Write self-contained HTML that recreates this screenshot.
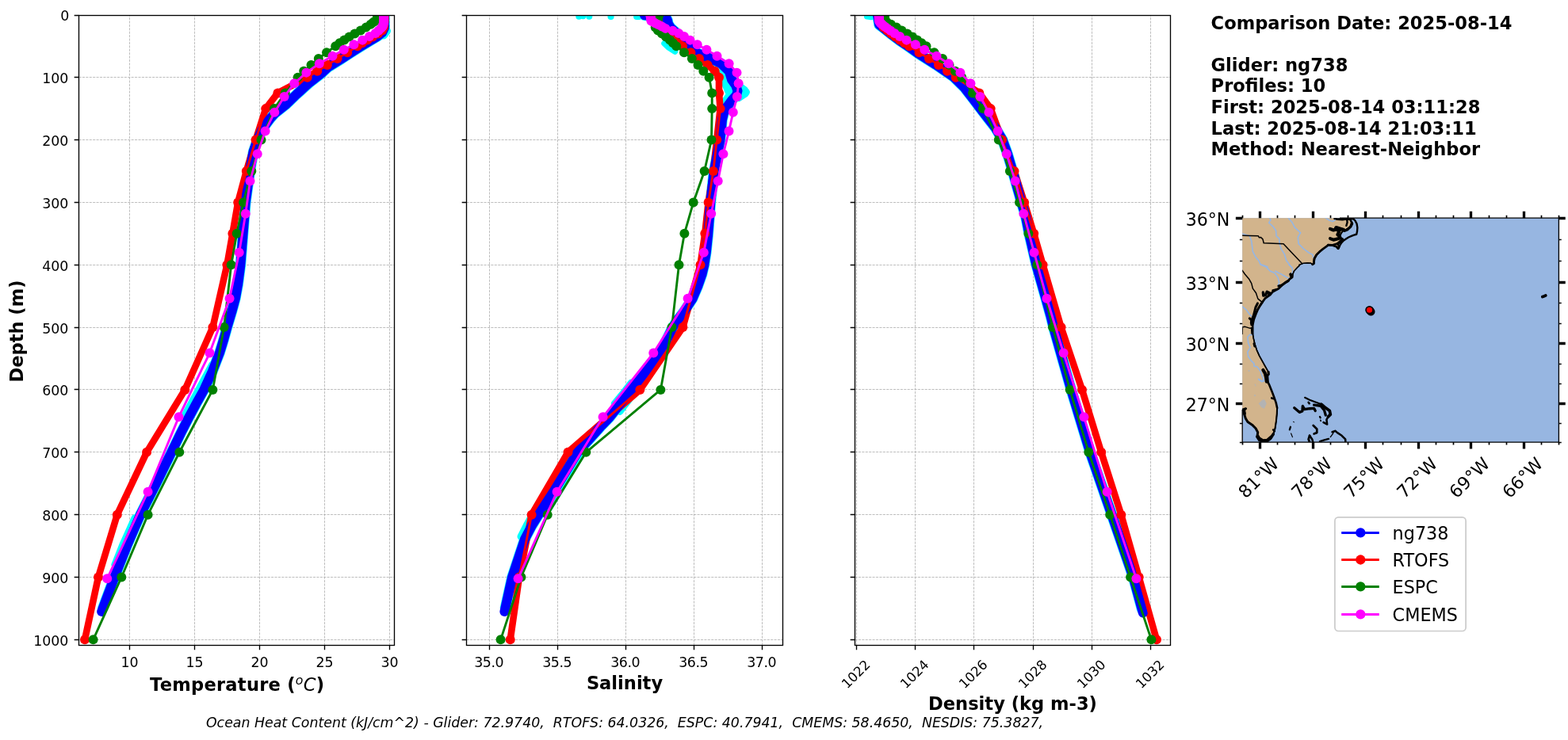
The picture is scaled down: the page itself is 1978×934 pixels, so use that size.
<!DOCTYPE html>
<html lang="en"><head><meta charset="utf-8"><title>Glider vs model profile comparison</title>
<style>html,body{margin:0;padding:0;background:#fff}body{width:1978px;height:934px;overflow:hidden}svg{display:block}</style></head>
<body>
<svg width="1978" height="934" viewBox="0 0 1978 934" font-family='"DejaVu Sans","Liberation Sans",sans-serif'>
<rect width="1978" height="934" fill="#fff"/>
<defs>
<clipPath id="c0"><rect x="99.5" y="19.5" width="398" height="795"/></clipPath>
<clipPath id="c1"><rect x="588.5" y="19.5" width="399" height="795"/></clipPath>
<clipPath id="c2"><rect x="1078.5" y="19.5" width="398" height="795"/></clipPath>
<clipPath id="cm"><rect x="1567.2" y="275.2" width="399.2" height="282.9"/></clipPath>
</defs>
<g>
<path d="M163.5 814.5V19.5M245.5 814.5V19.5M327.5 814.5V19.5M409.5 814.5V19.5M491.5 814.5V19.5M99.5 19.5H497.5M99.5 97.5H497.5M99.5 176.5H497.5M99.5 255.5H497.5M99.5 334.5H497.5M99.5 413.5H497.5M99.5 491.5H497.5M99.5 570.5H497.5M99.5 649.5H497.5M99.5 728.5H497.5M99.5 807.5H497.5" fill="none" stroke="#b0b0b0" stroke-width="0.83" stroke-dasharray="3.08 1.33"/>
<g clip-path="url(#c0)" fill="none" stroke-linejoin="round" stroke-linecap="round">
<polyline points="485,19.3 485,35.06 482,41.37 476,46.1 468,50.82 455,58.7 442.5,66.59 430.5,74.47 414,84.71 405.5,92.59 390.3,104.41 374.2,118.99 360.3,132.31 346.5,143.27 340.5,150.12 335.1,157.38 330,165.1 324.7,176.92 319.7,191.11 315.2,216.33 309.8,255.73 306.6,295.14 303.4,334.54 300.3,358.18 297,376.31 292.3,393.65 286.4,413.35 282,429.11 276.9,445.66 268,468.52 257.2,492.16 248.4,507.92 238.6,526.05 227.8,547.33 216.3,570.97 197,610.38 177,649.78 160,689.18 144.4,728.59 129.95,767.25" stroke="#0ff" stroke-width="13.4"/>
<polyline points="488,39 484,44.52" stroke="#0ff" stroke-width="10"/>
<polyline points="170,653.72 155.5,686.03 144.8,712.83" stroke="#0ff" stroke-width="9"/>
<polyline points="268,460.64 251,492.16 234,523.68" stroke="#0ff" stroke-width="10"/>
<polyline points="484.5,18.85 484.5,20.43 484.5,22 484.5,23.58 484.5,25.16 484.5,26.73 484.4,28.31 484.25,30.68 484,34.62 482,38.56 477,42.51 470,46.45 463.5,50.39 457,54.33 450.9,58.27 438.2,66.16 425.6,74.05 412.9,81.93 400.3,89.81 387.7,97.7 350.4,117.41 335.2,137.12 322.6,176.55 310.8,215.97 300.2,255.4 293.4,294.82 286.4,334.25 268.4,413.1 233.3,491.95 185.1,570.8 147.8,649.65 124,728.5 107,807.35" stroke="#f00" stroke-width="8.6" stroke-linecap="butt"/>
<polyline points="485,19.3 485,35.06 482,41.37 476,46.1 468,50.82 455,58.7 442.5,66.59 430.5,74.47 414,84.71 405.5,92.59 390.3,104.41 374.2,118.99 360.3,132.31 346.5,143.27 340.5,150.12 335.1,157.38 330,165.1 324.7,176.92 319.7,191.11 315.2,216.33 309.8,255.73 306.6,295.14 303.4,334.54 300.3,358.18 297,376.31 292.3,393.65 286.4,413.35 282,429.11 276.9,445.66 268,468.52 257.2,492.16 248.4,507.92 238.6,526.05 227.8,547.33 216.3,570.97 197,610.38 177,649.78 160,689.18 144.4,728.59 128.2,771.94" stroke="#00f" stroke-width="12"/>
<polyline points="484.5,18.85 484.5,20.43 484.5,22 484.5,23.58 484.5,25.16 484.5,26.73 484.4,28.31 484.25,30.68 484,34.62 482,38.56 477,42.51 470,46.45 463.5,50.39 457,54.33 450.9,58.27 438.2,66.16 425.6,74.05 412.9,81.93 400.3,89.81 387.7,97.7 350.4,117.41 335.2,137.12 322.6,176.55 310.8,215.97 300.2,255.4 293.4,294.82 286.4,334.25 268.4,413.1 233.3,491.95 185.1,570.8 147.8,649.65 124,728.5 107,807.35" stroke="#f00" stroke-width="2.9"/>
<g fill="#f00" stroke="none"><circle cx="484.5" cy="18.85" r="6"/><circle cx="484.5" cy="20.43" r="6"/><circle cx="484.5" cy="22" r="6"/><circle cx="484.5" cy="23.58" r="6"/><circle cx="484.5" cy="25.16" r="6"/><circle cx="484.5" cy="26.73" r="6"/><circle cx="484.4" cy="28.31" r="6"/><circle cx="484.25" cy="30.68" r="6"/><circle cx="484" cy="34.62" r="6"/><circle cx="482" cy="38.56" r="6"/><circle cx="477" cy="42.51" r="6"/><circle cx="470" cy="46.45" r="6"/><circle cx="463.5" cy="50.39" r="6"/><circle cx="457" cy="54.33" r="6"/><circle cx="450.9" cy="58.27" r="6"/><circle cx="438.2" cy="66.16" r="6"/><circle cx="425.6" cy="74.05" r="6"/><circle cx="412.9" cy="81.93" r="6"/><circle cx="400.3" cy="89.81" r="6"/><circle cx="387.7" cy="97.7" r="6"/><circle cx="350.4" cy="117.41" r="6"/><circle cx="335.2" cy="137.12" r="6"/><circle cx="322.6" cy="176.55" r="6"/><circle cx="310.8" cy="215.97" r="6"/><circle cx="300.2" cy="255.4" r="6"/><circle cx="293.4" cy="294.82" r="6"/><circle cx="286.4" cy="334.25" r="6"/><circle cx="268.4" cy="413.1" r="6"/><circle cx="233.3" cy="491.95" r="6"/><circle cx="185.1" cy="570.8" r="6"/><circle cx="147.8" cy="649.65" r="6"/><circle cx="124" cy="728.5" r="6"/><circle cx="107" cy="807.35" r="6"/></g>
<polyline points="476.5,18.85 476.33,20.43 476.17,22 476,23.58 475,25.16 473.1,26.73 470.67,28.31 467.57,30.68 461.6,34.62 454.87,38.56 447.47,42.51 440.53,46.45 434.3,50.39 428.46,54.33 423.24,58.27 412.02,66.16 401.83,74.05 392.53,81.93 383.19,89.81 375.6,97.7 359.8,117.41 346,137.12 329.5,176.55 317.3,215.97 307,255.4 298.7,294.82 291.7,334.25 282.6,413.1 268.4,491.95 226.3,570.8 186.6,649.65 153.3,728.5 117.6,807.35" stroke="#008000" stroke-width="2.9"/>
<g fill="#008000" stroke="none"><circle cx="476.5" cy="18.85" r="6"/><circle cx="476.33" cy="20.43" r="6"/><circle cx="476.17" cy="22" r="6"/><circle cx="476" cy="23.58" r="6"/><circle cx="475" cy="25.16" r="6"/><circle cx="473.1" cy="26.73" r="6"/><circle cx="470.67" cy="28.31" r="6"/><circle cx="467.57" cy="30.68" r="6"/><circle cx="461.6" cy="34.62" r="6"/><circle cx="454.87" cy="38.56" r="6"/><circle cx="447.47" cy="42.51" r="6"/><circle cx="440.53" cy="46.45" r="6"/><circle cx="434.3" cy="50.39" r="6"/><circle cx="428.46" cy="54.33" r="6"/><circle cx="423.24" cy="58.27" r="6"/><circle cx="412.02" cy="66.16" r="6"/><circle cx="401.83" cy="74.05" r="6"/><circle cx="392.53" cy="81.93" r="6"/><circle cx="383.19" cy="89.81" r="6"/><circle cx="375.6" cy="97.7" r="6"/><circle cx="359.8" cy="117.41" r="6"/><circle cx="346" cy="137.12" r="6"/><circle cx="329.5" cy="176.55" r="6"/><circle cx="317.3" cy="215.97" r="6"/><circle cx="307" cy="255.4" r="6"/><circle cx="298.7" cy="294.82" r="6"/><circle cx="291.7" cy="334.25" r="6"/><circle cx="282.6" cy="413.1" r="6"/><circle cx="268.4" cy="491.95" r="6"/><circle cx="226.3" cy="570.8" r="6"/><circle cx="186.6" cy="649.65" r="6"/><circle cx="153.3" cy="728.5" r="6"/><circle cx="117.6" cy="807.35" r="6"/></g>
<polyline points="484,19.24 484,20.06 484,20.94 484,21.86 484,22.86 484,23.93 484,25.1 484,26.4 484,27.84 483.77,29.47 483.5,31.32 482.5,33.44 480.5,35.88 477.5,38.72 473.6,42.03 466,45.97 457.2,50.63 446.4,56.22 433.8,62.85 419.5,70.73 402.8,80.27 386.4,91.63 371.2,105.35 358.6,121.91 346.3,141.78 334.6,165.59 324.7,194.29 315.5,228.59 309.8,269.67 301.7,318.64 289.6,376.75 264.5,445.51 225.5,526.33 186.6,620.71 135.2,730.31" stroke="#f0f" stroke-width="2.9"/>
<g fill="#f0f" stroke="none"><circle cx="484" cy="19.24" r="6"/><circle cx="484" cy="20.06" r="6"/><circle cx="484" cy="20.94" r="6"/><circle cx="484" cy="21.86" r="6"/><circle cx="484" cy="22.86" r="6"/><circle cx="484" cy="23.93" r="6"/><circle cx="484" cy="25.1" r="6"/><circle cx="484" cy="26.4" r="6"/><circle cx="484" cy="27.84" r="6"/><circle cx="483.77" cy="29.47" r="6"/><circle cx="483.5" cy="31.32" r="6"/><circle cx="482.5" cy="33.44" r="6"/><circle cx="480.5" cy="35.88" r="6"/><circle cx="477.5" cy="38.72" r="6"/><circle cx="473.6" cy="42.03" r="6"/><circle cx="466" cy="45.97" r="6"/><circle cx="457.2" cy="50.63" r="6"/><circle cx="446.4" cy="56.22" r="6"/><circle cx="433.8" cy="62.85" r="6"/><circle cx="419.5" cy="70.73" r="6"/><circle cx="402.8" cy="80.27" r="6"/><circle cx="386.4" cy="91.63" r="6"/><circle cx="371.2" cy="105.35" r="6"/><circle cx="358.6" cy="121.91" r="6"/><circle cx="346.3" cy="141.78" r="6"/><circle cx="334.6" cy="165.59" r="6"/><circle cx="324.7" cy="194.29" r="6"/><circle cx="315.5" cy="228.59" r="6"/><circle cx="309.8" cy="269.67" r="6"/><circle cx="301.7" cy="318.64" r="6"/><circle cx="289.6" cy="376.75" r="6"/><circle cx="264.5" cy="445.51" r="6"/><circle cx="225.5" cy="526.33" r="6"/><circle cx="186.6" cy="620.71" r="6"/><circle cx="135.2" cy="730.31" r="6"/></g>
</g>
<rect x="99.5" y="19.5" width="398" height="795" fill="none" stroke="#000" stroke-width="1.33"/>
<path d="M163.5 814.5v5.83M245.5 814.5v5.83M327.5 814.5v5.83M409.5 814.5v5.83M491.5 814.5v5.83M99.5 19.5h-5.83M99.5 97.5h-5.83M99.5 176.5h-5.83M99.5 255.5h-5.83M99.5 334.5h-5.83M99.5 413.5h-5.83M99.5 491.5h-5.83M99.5 570.5h-5.83M99.5 649.5h-5.83M99.5 728.5h-5.83M99.5 807.5h-5.83" fill="none" stroke="#000" stroke-width="1.33"/>
<g font-size="17.4" letter-spacing="-0.07" fill="#000">
<text x="163.5" y="841.9" text-anchor="middle">10</text>
<text x="245.5" y="841.9" text-anchor="middle">15</text>
<text x="327.5" y="841.9" text-anchor="middle">20</text>
<text x="409.5" y="841.9" text-anchor="middle">25</text>
<text x="491.5" y="841.9" text-anchor="middle">30</text>
<text x="87.2" y="25.9" text-anchor="end">0</text>
<text x="86.2" y="105.1" text-anchor="end">100</text>
<text x="86.2" y="184.1" text-anchor="end">200</text>
<text x="86.2" y="263.1" text-anchor="end">300</text>
<text x="86.2" y="342.1" text-anchor="end">400</text>
<text x="86.2" y="421.1" text-anchor="end">500</text>
<text x="86.2" y="499.1" text-anchor="end">600</text>
<text x="86.2" y="578.1" text-anchor="end">700</text>
<text x="86.2" y="657.1" text-anchor="end">800</text>
<text x="86.2" y="736.1" text-anchor="end">900</text>
<text x="86.2" y="815.1" text-anchor="end">1000</text>
</g>
</g>
<g>
<path d="M617.5 814.5V19.5M703.5 814.5V19.5M789.5 814.5V19.5M875.5 814.5V19.5M961.5 814.5V19.5M588.5 19.5H987.5M588.5 97.5H987.5M588.5 176.5H987.5M588.5 255.5H987.5M588.5 334.5H987.5M588.5 413.5H987.5M588.5 491.5H987.5M588.5 570.5H987.5M588.5 649.5H987.5M588.5 728.5H987.5M588.5 807.5H987.5" fill="none" stroke="#b0b0b0" stroke-width="0.83" stroke-dasharray="3.08 1.33"/>
<g clip-path="url(#c1)" fill="none" stroke-linejoin="round" stroke-linecap="round">
<polyline points="813,19.3 830,20.48 840,21.66 842,25.6 843,30.33 846,35.06 855,42.94 863,50.82 871,58.7 877.5,66.11 892.6,72.1 909.3,79.98 919.9,90.23 923,100.47 928,107.57 930.5,114.66 929,120.18 923.2,126.48 914,139.09 911,150.91 908.5,176.92 900.6,216.33 896.3,255.73 895.3,269.92 893.3,295.14 890.8,318.78 888.3,334.54 885.5,346.36 880.5,360.55 873.5,377.1 862,394.44 855,403.5 848.5,413.35 832.6,445.66 796.2,492.16 768.9,526.84 757.5,538.66 728.6,570.97 698.3,620.62 679.3,649.78 670.6,663.97 661.9,680.52 646,728.59 637.48,767.05" stroke="#0ff" stroke-width="13.4"/>
<polyline points="730.3,20.8 730.4,20.8" stroke="#0ff" stroke-width="8"/>
<polyline points="735.5,20.8 735.6,20.8" stroke="#0ff" stroke-width="7"/>
<polyline points="743.2,20.8 743.3,20.8" stroke="#0ff" stroke-width="8"/>
<polyline points="770.5,21.03 770.6,21.03" stroke="#0ff" stroke-width="8"/>
<polyline points="803.1,20.88 806,20.88" stroke="#0ff" stroke-width="8"/>
<polyline points="838,54.76 843,59.49 851.5,65.01" stroke="#0ff" stroke-width="7.5"/>
<polyline points="930,105.99 939.5,113.08 942,116.24 940.5,118.6 932,124.12" stroke="#0ff" stroke-width="8"/>
<polyline points="910,92.59 913.5,101.26 917,109.93 921,119.39 914,129.63" stroke="#0ff" stroke-width="10"/>
<polyline points="796.5,482.7 786,496.1 775,509.5" stroke="#0ff" stroke-width="8.5"/>
<polyline points="799.5,496.89 791,507.92 782,519.74" stroke="#0ff" stroke-width="8.5"/>
<polyline points="676,641.9 665,661.6 657,677.36" stroke="#0ff" stroke-width="9"/>
<polyline points="735.5,570.97 718.5,598.55 702,626.14 692.5,641.9" stroke="#0ff" stroke-width="8.5"/>
<polyline points="725.5,563.09 716,578.85 707.5,593.04" stroke="#0ff" stroke-width="8"/>
<polyline points="829,18.85 829.1,20.43 829.2,22 829.3,23.58 829.4,25.16 829.5,26.73 829.6,28.31 829.75,30.68 830,34.62 834,38.56 838,42.51 844,46.45 850,50.39 855.5,54.33 861,58.27 871.4,66.16 882,74.05 892.6,81.93 901.7,89.81 907,97.7 907,117.41 908.6,137.12 904.2,176.55 899.8,215.97 893.6,255.4 889.3,294.82 883.5,334.25 861.4,413.1 807.3,491.95 716.5,570.8 670.6,649.65 655,728.5 643.7,807.35" stroke="#f00" stroke-width="8.6" stroke-linecap="butt"/>
<polyline points="813,19.3 830,20.48 840,21.66 842,25.6 843,30.33 846,35.06 855,42.94 863,50.82 871,58.7 877.5,66.11 892.6,72.1 909.3,79.98 919.9,90.23 923,100.47 928,107.57 930.5,114.66 929,120.18 923.2,126.48 914,139.09 911,150.91 908.5,176.92 900.6,216.33 896.3,255.73 895.3,269.92 893.3,295.14 890.8,318.78 888.3,334.54 885.5,346.36 880.5,360.55 873.5,377.1 862,394.44 855,403.5 848.5,413.35 832.6,445.66 796.2,492.16 768.9,526.84 757.5,538.66 728.6,570.97 698.3,620.62 679.3,649.78 670.6,663.97 661.9,680.52 646,728.59 636.4,771.94" stroke="#00f" stroke-width="12"/>
<polyline points="829,18.85 829.1,20.43 829.2,22 829.3,23.58 829.4,25.16 829.5,26.73 829.6,28.31 829.75,30.68 830,34.62 834,38.56 838,42.51 844,46.45 850,50.39 855.5,54.33 861,58.27 871.4,66.16 882,74.05 892.6,81.93 901.7,89.81 907,97.7 907,117.41 908.6,137.12 904.2,176.55 899.8,215.97 893.6,255.4 889.3,294.82 883.5,334.25 861.4,413.1 807.3,491.95 716.5,570.8 670.6,649.65 655,728.5 643.7,807.35" stroke="#f00" stroke-width="2.9"/>
<g fill="#f00" stroke="none"><circle cx="829" cy="18.85" r="6"/><circle cx="829.1" cy="20.43" r="6"/><circle cx="829.2" cy="22" r="6"/><circle cx="829.3" cy="23.58" r="6"/><circle cx="829.4" cy="25.16" r="6"/><circle cx="829.5" cy="26.73" r="6"/><circle cx="829.6" cy="28.31" r="6"/><circle cx="829.75" cy="30.68" r="6"/><circle cx="830" cy="34.62" r="6"/><circle cx="834" cy="38.56" r="6"/><circle cx="838" cy="42.51" r="6"/><circle cx="844" cy="46.45" r="6"/><circle cx="850" cy="50.39" r="6"/><circle cx="855.5" cy="54.33" r="6"/><circle cx="861" cy="58.27" r="6"/><circle cx="871.4" cy="66.16" r="6"/><circle cx="882" cy="74.05" r="6"/><circle cx="892.6" cy="81.93" r="6"/><circle cx="901.7" cy="89.81" r="6"/><circle cx="907" cy="97.7" r="6"/><circle cx="907" cy="117.41" r="6"/><circle cx="908.6" cy="137.12" r="6"/><circle cx="904.2" cy="176.55" r="6"/><circle cx="899.8" cy="215.97" r="6"/><circle cx="893.6" cy="255.4" r="6"/><circle cx="889.3" cy="294.82" r="6"/><circle cx="883.5" cy="334.25" r="6"/><circle cx="861.4" cy="413.1" r="6"/><circle cx="807.3" cy="491.95" r="6"/><circle cx="716.5" cy="570.8" r="6"/><circle cx="670.6" cy="649.65" r="6"/><circle cx="655" cy="728.5" r="6"/><circle cx="643.7" cy="807.35" r="6"/></g>
<polyline points="831,18.85 830.67,20.43 830.33,22 830,23.58 829,25.16 828,26.73 827,28.31 826.89,30.68 826.7,34.62 830,38.56 835,42.51 840,46.45 845,50.39 849,54.33 853.2,58.27 863,66.16 872.9,74.05 880.5,81.93 887.3,89.81 894.6,97.7 898.2,117.41 898.2,137.12 897.5,176.55 888.6,215.97 874.7,255.4 863.4,294.82 856.5,334.25 847.5,413.1 833.4,491.95 739.3,570.8 690.7,649.65 657.4,728.5 631.6,807.35" stroke="#008000" stroke-width="2.9"/>
<g fill="#008000" stroke="none"><circle cx="831" cy="18.85" r="6"/><circle cx="830.67" cy="20.43" r="6"/><circle cx="830.33" cy="22" r="6"/><circle cx="830" cy="23.58" r="6"/><circle cx="829" cy="25.16" r="6"/><circle cx="828" cy="26.73" r="6"/><circle cx="827" cy="28.31" r="6"/><circle cx="826.89" cy="30.68" r="6"/><circle cx="826.7" cy="34.62" r="6"/><circle cx="830" cy="38.56" r="6"/><circle cx="835" cy="42.51" r="6"/><circle cx="840" cy="46.45" r="6"/><circle cx="845" cy="50.39" r="6"/><circle cx="849" cy="54.33" r="6"/><circle cx="853.2" cy="58.27" r="6"/><circle cx="863" cy="66.16" r="6"/><circle cx="872.9" cy="74.05" r="6"/><circle cx="880.5" cy="81.93" r="6"/><circle cx="887.3" cy="89.81" r="6"/><circle cx="894.6" cy="97.7" r="6"/><circle cx="898.2" cy="117.41" r="6"/><circle cx="898.2" cy="137.12" r="6"/><circle cx="897.5" cy="176.55" r="6"/><circle cx="888.6" cy="215.97" r="6"/><circle cx="874.7" cy="255.4" r="6"/><circle cx="863.4" cy="294.82" r="6"/><circle cx="856.5" cy="334.25" r="6"/><circle cx="847.5" cy="413.1" r="6"/><circle cx="833.4" cy="491.95" r="6"/><circle cx="739.3" cy="570.8" r="6"/><circle cx="690.7" cy="649.65" r="6"/><circle cx="657.4" cy="728.5" r="6"/><circle cx="631.6" cy="807.35" r="6"/></g>
<polyline points="820.5,19.24 820.62,20.06 820.74,20.94 820.87,21.86 821.01,22.86 821.16,23.93 821.32,25.1 821.5,26.4 824.08,27.84 827,29.47 830.72,31.32 835,33.44 839.5,35.88 848.6,38.72 856.2,42.03 863,45.97 870.6,50.63 879.7,56.22 891.4,62.85 904.5,70.73 919.6,80.27 929.5,91.63 931.6,105.35 929.8,121.91 924.8,141.78 919.5,165.59 912.4,194.29 905.7,228.59 897.2,269.67 887.8,318.64 867.6,376.75 824.3,445.51 760.6,526.33 702.6,620.71 653.6,730.31" stroke="#f0f" stroke-width="2.9"/>
<g fill="#f0f" stroke="none"><circle cx="820.5" cy="19.24" r="6"/><circle cx="820.62" cy="20.06" r="6"/><circle cx="820.74" cy="20.94" r="6"/><circle cx="820.87" cy="21.86" r="6"/><circle cx="821.01" cy="22.86" r="6"/><circle cx="821.16" cy="23.93" r="6"/><circle cx="821.32" cy="25.1" r="6"/><circle cx="821.5" cy="26.4" r="6"/><circle cx="824.08" cy="27.84" r="6"/><circle cx="827" cy="29.47" r="6"/><circle cx="830.72" cy="31.32" r="6"/><circle cx="835" cy="33.44" r="6"/><circle cx="839.5" cy="35.88" r="6"/><circle cx="848.6" cy="38.72" r="6"/><circle cx="856.2" cy="42.03" r="6"/><circle cx="863" cy="45.97" r="6"/><circle cx="870.6" cy="50.63" r="6"/><circle cx="879.7" cy="56.22" r="6"/><circle cx="891.4" cy="62.85" r="6"/><circle cx="904.5" cy="70.73" r="6"/><circle cx="919.6" cy="80.27" r="6"/><circle cx="929.5" cy="91.63" r="6"/><circle cx="931.6" cy="105.35" r="6"/><circle cx="929.8" cy="121.91" r="6"/><circle cx="924.8" cy="141.78" r="6"/><circle cx="919.5" cy="165.59" r="6"/><circle cx="912.4" cy="194.29" r="6"/><circle cx="905.7" cy="228.59" r="6"/><circle cx="897.2" cy="269.67" r="6"/><circle cx="887.8" cy="318.64" r="6"/><circle cx="867.6" cy="376.75" r="6"/><circle cx="824.3" cy="445.51" r="6"/><circle cx="760.6" cy="526.33" r="6"/><circle cx="702.6" cy="620.71" r="6"/><circle cx="653.6" cy="730.31" r="6"/></g>
</g>
<rect x="588.5" y="19.5" width="399" height="795" fill="none" stroke="#000" stroke-width="1.33"/>
<path d="M617.5 814.5v5.83M703.5 814.5v5.83M789.5 814.5v5.83M875.5 814.5v5.83M961.5 814.5v5.83M588.5 19.5h-5.83M588.5 97.5h-5.83M588.5 176.5h-5.83M588.5 255.5h-5.83M588.5 334.5h-5.83M588.5 413.5h-5.83M588.5 491.5h-5.83M588.5 570.5h-5.83M588.5 649.5h-5.83M588.5 728.5h-5.83M588.5 807.5h-5.83" fill="none" stroke="#000" stroke-width="1.33"/>
<g font-size="17.4" letter-spacing="-0.07" fill="#000">
<text x="616.65" y="841.9" text-anchor="middle" letter-spacing="-0.5">35.0</text>
<text x="702.65" y="841.9" text-anchor="middle" letter-spacing="-0.5">35.5</text>
<text x="788.65" y="841.9" text-anchor="middle" letter-spacing="-0.5">36.0</text>
<text x="874.65" y="841.9" text-anchor="middle" letter-spacing="-0.5">36.5</text>
<text x="960.65" y="841.9" text-anchor="middle" letter-spacing="-0.5">37.0</text>
</g>
</g>
<g>
<path d="M1080.5 814.5V19.5M1154.5 814.5V19.5M1228.5 814.5V19.5M1303.5 814.5V19.5M1377.5 814.5V19.5M1451.5 814.5V19.5M1078.5 19.5H1476.5M1078.5 97.5H1476.5M1078.5 176.5H1476.5M1078.5 255.5H1476.5M1078.5 334.5H1476.5M1078.5 413.5H1476.5M1078.5 491.5H1476.5M1078.5 570.5H1476.5M1078.5 649.5H1476.5M1078.5 728.5H1476.5M1078.5 807.5H1476.5" fill="none" stroke="#b0b0b0" stroke-width="0.83" stroke-dasharray="3.08 1.33"/>
<g clip-path="url(#c2)" fill="none" stroke-linejoin="round" stroke-linecap="round">
<polyline points="1107,19.3 1109,31.12 1115,35.85 1124,42.94 1134.9,51.3 1146,58.7 1159,68 1180.4,81.56 1202.5,96.77 1216.5,110.48 1228.5,126.01 1239.5,140.51 1247.5,150.91 1255.5,161.16 1264.8,176.92 1271,194.26 1277.5,216.33 1288.6,255.73 1293.5,271.49 1298.2,295.14 1307.3,334.54 1319.4,377.1 1325.5,399.16 1329,413.35 1351.3,492.16 1375.2,570.97 1402.5,649.78 1429.6,728.59 1440.49,768.69" stroke="#0ff" stroke-width="13.4"/>
<polyline points="1094,20.56 1099,21.19" stroke="#0ff" stroke-width="8"/>
<polyline points="1110,18.85 1110.2,20.43 1110.4,22 1110.6,23.58 1110.8,25.16 1111,26.73 1111.7,28.31 1112.75,30.68 1114.5,34.62 1119.25,38.56 1124,42.51 1129.5,46.45 1135,50.39 1141,54.33 1147,58.27 1159.5,66.16 1172,74.05 1184,81.93 1195,89.81 1205.7,97.7 1235.3,117.41 1249.7,137.12 1264,176.55 1279.5,215.97 1292.1,255.4 1304.2,294.82 1315.6,334.25 1338.6,413.1 1365,491.95 1389.2,570.8 1414.3,649.65 1436.7,728.5 1459,807.35" stroke="#f00" stroke-width="8.6" stroke-linecap="butt"/>
<polyline points="1107,19.3 1109,31.12 1115,35.85 1124,42.94 1134.9,51.3 1146,58.7 1159,68 1180.4,81.56 1202.5,96.77 1216.5,110.48 1228.5,126.01 1239.5,140.51 1247.5,150.91 1255.5,161.16 1264.8,176.92 1271,194.26 1277.5,216.33 1288.6,255.73 1293.5,271.49 1298.2,295.14 1307.3,334.54 1319.4,377.1 1325.5,399.16 1329,413.35 1351.3,492.16 1375.2,570.97 1402.5,649.78 1429.6,728.59 1441.8,773.51" stroke="#00f" stroke-width="12"/>
<polyline points="1110,18.85 1110.2,20.43 1110.4,22 1110.6,23.58 1110.8,25.16 1111,26.73 1111.7,28.31 1112.75,30.68 1114.5,34.62 1119.25,38.56 1124,42.51 1129.5,46.45 1135,50.39 1141,54.33 1147,58.27 1159.5,66.16 1172,74.05 1184,81.93 1195,89.81 1205.7,97.7 1235.3,117.41 1249.7,137.12 1264,176.55 1279.5,215.97 1292.1,255.4 1304.2,294.82 1315.6,334.25 1338.6,413.1 1365,491.95 1389.2,570.8 1414.3,649.65 1436.7,728.5 1459,807.35" stroke="#f00" stroke-width="2.9"/>
<g fill="#f00" stroke="none"><circle cx="1110" cy="18.85" r="6"/><circle cx="1110.2" cy="20.43" r="6"/><circle cx="1110.4" cy="22" r="6"/><circle cx="1110.6" cy="23.58" r="6"/><circle cx="1110.8" cy="25.16" r="6"/><circle cx="1111" cy="26.73" r="6"/><circle cx="1111.7" cy="28.31" r="6"/><circle cx="1112.75" cy="30.68" r="6"/><circle cx="1114.5" cy="34.62" r="6"/><circle cx="1119.25" cy="38.56" r="6"/><circle cx="1124" cy="42.51" r="6"/><circle cx="1129.5" cy="46.45" r="6"/><circle cx="1135" cy="50.39" r="6"/><circle cx="1141" cy="54.33" r="6"/><circle cx="1147" cy="58.27" r="6"/><circle cx="1159.5" cy="66.16" r="6"/><circle cx="1172" cy="74.05" r="6"/><circle cx="1184" cy="81.93" r="6"/><circle cx="1195" cy="89.81" r="6"/><circle cx="1205.7" cy="97.7" r="6"/><circle cx="1235.3" cy="117.41" r="6"/><circle cx="1249.7" cy="137.12" r="6"/><circle cx="1264" cy="176.55" r="6"/><circle cx="1279.5" cy="215.97" r="6"/><circle cx="1292.1" cy="255.4" r="6"/><circle cx="1304.2" cy="294.82" r="6"/><circle cx="1315.6" cy="334.25" r="6"/><circle cx="1338.6" cy="413.1" r="6"/><circle cx="1365" cy="491.95" r="6"/><circle cx="1389.2" cy="570.8" r="6"/><circle cx="1414.3" cy="649.65" r="6"/><circle cx="1436.7" cy="728.5" r="6"/><circle cx="1459" cy="807.35" r="6"/></g>
<polyline points="1115.5,18.85 1115.62,20.43 1115.75,22 1115.88,23.58 1116,25.16 1117.5,26.73 1119,28.31 1124,30.68 1131,34.62 1137.5,38.56 1144.5,42.51 1151,46.45 1157,50.39 1162.5,54.33 1168.5,58.27 1178.5,66.16 1189,74.05 1197.5,81.93 1205,89.81 1213.3,97.7 1227,117.41 1239.9,137.12 1259.8,176.55 1273.9,215.97 1286,255.4 1297.4,294.82 1308.3,334.25 1328,413.1 1349.7,491.95 1373.3,570.8 1400.2,649.65 1426.1,728.5 1452.4,807.35" stroke="#008000" stroke-width="2.9"/>
<g fill="#008000" stroke="none"><circle cx="1115.5" cy="18.85" r="6"/><circle cx="1115.62" cy="20.43" r="6"/><circle cx="1115.75" cy="22" r="6"/><circle cx="1115.88" cy="23.58" r="6"/><circle cx="1116" cy="25.16" r="6"/><circle cx="1117.5" cy="26.73" r="6"/><circle cx="1119" cy="28.31" r="6"/><circle cx="1124" cy="30.68" r="6"/><circle cx="1131" cy="34.62" r="6"/><circle cx="1137.5" cy="38.56" r="6"/><circle cx="1144.5" cy="42.51" r="6"/><circle cx="1151" cy="46.45" r="6"/><circle cx="1157" cy="50.39" r="6"/><circle cx="1162.5" cy="54.33" r="6"/><circle cx="1168.5" cy="58.27" r="6"/><circle cx="1178.5" cy="66.16" r="6"/><circle cx="1189" cy="74.05" r="6"/><circle cx="1197.5" cy="81.93" r="6"/><circle cx="1205" cy="89.81" r="6"/><circle cx="1213.3" cy="97.7" r="6"/><circle cx="1227" cy="117.41" r="6"/><circle cx="1239.9" cy="137.12" r="6"/><circle cx="1259.8" cy="176.55" r="6"/><circle cx="1273.9" cy="215.97" r="6"/><circle cx="1286" cy="255.4" r="6"/><circle cx="1297.4" cy="294.82" r="6"/><circle cx="1308.3" cy="334.25" r="6"/><circle cx="1328" cy="413.1" r="6"/><circle cx="1349.7" cy="491.95" r="6"/><circle cx="1373.3" cy="570.8" r="6"/><circle cx="1400.2" cy="649.65" r="6"/><circle cx="1426.1" cy="728.5" r="6"/><circle cx="1452.4" cy="807.35" r="6"/></g>
<polyline points="1108.7,19.24 1108.73,20.06 1108.77,20.94 1108.81,21.86 1108.85,22.86 1108.9,23.93 1108.95,25.1 1109,26.4 1109.94,27.84 1111,29.47 1113.33,31.32 1116,33.44 1119.5,35.88 1123.5,38.72 1128.5,42.03 1135,45.97 1143.6,50.63 1154.9,56.22 1166.3,62.85 1181.5,70.73 1196.7,80.27 1211.4,91.63 1224.4,105.35 1236.4,121.91 1247.4,141.78 1258.7,165.59 1269.7,194.29 1280.7,228.59 1291.3,269.67 1304.5,318.64 1320.5,376.75 1341.6,445.51 1367.4,526.33 1396.6,620.71 1433.4,730.31" stroke="#f0f" stroke-width="2.9"/>
<g fill="#f0f" stroke="none"><circle cx="1108.7" cy="19.24" r="6"/><circle cx="1108.73" cy="20.06" r="6"/><circle cx="1108.77" cy="20.94" r="6"/><circle cx="1108.81" cy="21.86" r="6"/><circle cx="1108.85" cy="22.86" r="6"/><circle cx="1108.9" cy="23.93" r="6"/><circle cx="1108.95" cy="25.1" r="6"/><circle cx="1109" cy="26.4" r="6"/><circle cx="1109.94" cy="27.84" r="6"/><circle cx="1111" cy="29.47" r="6"/><circle cx="1113.33" cy="31.32" r="6"/><circle cx="1116" cy="33.44" r="6"/><circle cx="1119.5" cy="35.88" r="6"/><circle cx="1123.5" cy="38.72" r="6"/><circle cx="1128.5" cy="42.03" r="6"/><circle cx="1135" cy="45.97" r="6"/><circle cx="1143.6" cy="50.63" r="6"/><circle cx="1154.9" cy="56.22" r="6"/><circle cx="1166.3" cy="62.85" r="6"/><circle cx="1181.5" cy="70.73" r="6"/><circle cx="1196.7" cy="80.27" r="6"/><circle cx="1211.4" cy="91.63" r="6"/><circle cx="1224.4" cy="105.35" r="6"/><circle cx="1236.4" cy="121.91" r="6"/><circle cx="1247.4" cy="141.78" r="6"/><circle cx="1258.7" cy="165.59" r="6"/><circle cx="1269.7" cy="194.29" r="6"/><circle cx="1280.7" cy="228.59" r="6"/><circle cx="1291.3" cy="269.67" r="6"/><circle cx="1304.5" cy="318.64" r="6"/><circle cx="1320.5" cy="376.75" r="6"/><circle cx="1341.6" cy="445.51" r="6"/><circle cx="1367.4" cy="526.33" r="6"/><circle cx="1396.6" cy="620.71" r="6"/><circle cx="1433.4" cy="730.31" r="6"/></g>
</g>
<rect x="1078.5" y="19.5" width="398" height="795" fill="none" stroke="#000" stroke-width="1.33"/>
<path d="M1080.5 814.5v5.83M1154.5 814.5v5.83M1228.5 814.5v5.83M1303.5 814.5v5.83M1377.5 814.5v5.83M1451.5 814.5v5.83M1078.5 19.5h-5.83M1078.5 97.5h-5.83M1078.5 176.5h-5.83M1078.5 255.5h-5.83M1078.5 334.5h-5.83M1078.5 413.5h-5.83M1078.5 491.5h-5.83M1078.5 570.5h-5.83M1078.5 649.5h-5.83M1078.5 728.5h-5.83M1078.5 807.5h-5.83" fill="none" stroke="#000" stroke-width="1.33"/>
<g font-size="17.4" letter-spacing="-0.07" fill="#000">
<text transform="translate(1079.5,850.7) rotate(-45)" text-anchor="middle" y="6.1" font-size="16.7" letter-spacing="0">1022</text>
<text transform="translate(1153.5,850.7) rotate(-45)" text-anchor="middle" y="6.1" font-size="16.7" letter-spacing="0">1024</text>
<text transform="translate(1227.5,850.7) rotate(-45)" text-anchor="middle" y="6.1" font-size="16.7" letter-spacing="0">1026</text>
<text transform="translate(1302.5,850.7) rotate(-45)" text-anchor="middle" y="6.1" font-size="16.7" letter-spacing="0">1028</text>
<text transform="translate(1376.5,850.7) rotate(-45)" text-anchor="middle" y="6.1" font-size="16.7" letter-spacing="0">1030</text>
<text transform="translate(1450.5,850.7) rotate(-45)" text-anchor="middle" y="6.1" font-size="16.7" letter-spacing="0">1032</text>
</g>
</g>
<g font-size="22.57" font-weight="bold" fill="#000">
<text transform="translate(28.6,418) rotate(-90)" text-anchor="middle">Depth (m)</text>
<text x="189" y="872" letter-spacing="0.26">Temperature (<tspan font-weight="normal" font-style="italic"><tspan font-size="15.75" dy="-8.2">o</tspan><tspan dy="8.2">C</tspan></tspan>)</text>
<text x="788" y="869.9" text-anchor="middle">Salinity</text>
<text x="1277.5" y="895.8" text-anchor="middle">Density (kg m-3)</text>
</g>
<text x="788" y="917.9" font-size="17.38" font-style="italic" text-anchor="middle" xml:space="preserve" style="white-space:pre">Ocean Heat Content (kJ/cm^2) - Glider: 72.9740,  RTOFS: 64.0326,  ESPC: 40.7941,  CMEMS: 58.4650,  NESDIS: 75.3827,</text>
<g font-size="22.57" font-weight="bold" fill="#000">
<text x="1527.6" y="36.5">Comparison Date: 2025-08-14</text>
<text x="1527.6" y="89.7">Glider: ng738</text>
<text x="1527.6" y="116.3">Profiles: 10</text>
<text x="1527.6" y="142.9">First: 2025-08-14 03:11:28</text>
<text x="1527.6" y="169.5">Last: 2025-08-14 21:03:11</text>
<text x="1527.6" y="196.1">Method: Nearest-Neighbor</text>
</g>
<g>
<rect x="1567.2" y="275.2" width="399.2" height="282.9" fill="#97b6e1"/>
<g clip-path="url(#cm)" fill="none" stroke-linejoin="round" stroke-linecap="round">
<polygon points="1566.2,274.2 1683.7,274.2 1683.7,275.02 1686.96,277.06 1693.47,277.46 1698.35,276.65 1703.23,277.06 1705.68,280.72 1704.86,283.97 1701.61,287.23 1698.35,289.67 1695.1,290.65 1693.47,292.11 1691.84,294.55 1690.21,297.81 1691.03,300.25 1693.47,301.88 1690.21,305.13 1686.96,307.57 1689.4,310.83 1688.18,313.68 1688.18,313.68 1685.74,311.24 1680.45,309.37 1675.56,309.2 1675.56,309.2 1673.53,310.83 1669.05,314.09 1664.98,317.34 1660.92,321.41 1658.07,326.29 1657.25,332.8 1655.63,333.78 1655.63,333.78 1653.59,332.15 1649.52,331.83 1643.83,332.4 1638.94,334.43 1638.94,335.46 1636.5,337.66 1632.43,342.14 1630.4,347.02 1630.4,347.02 1630.15,349.87 1626.73,352.31 1625.11,354.75 1621.85,356.38 1616.97,360.21 1612.9,364.27 1605.57,368.18 1602.32,372.09 1599.06,374.28 1595.81,376.73 1592.55,381.2 1592.55,381.2 1589.3,386.09 1586.45,390.97 1584.01,396.67 1581.57,403.18 1580.18,409.69 1580.35,410.88 1580.35,416.58 1580.35,421.46 1580.35,421.46 1581.32,427.16 1583.03,434.48 1585.39,441.81 1588.65,449.13 1592.72,456.46 1596.79,463.78 1600.04,469.48 1600.04,469.48 1600.28,472.33 1598.66,474.36 1599.23,481.69 1597.74,478.92 1600.97,485.36 1604.37,493.65 1607.13,501.01 1609.71,508.38 1611.09,514.82 1611.09,514.82 1610.82,522.19 1609.9,531.39 1608.52,540.6 1606.21,547.97 1606.21,547.97 1602.53,553.49 1598.67,556.43 1594.06,557.36 1588.72,555.51 1585.96,551.19 1585.96,551.19 1586.7,545.66 1584.12,540.78 1579.52,536.18 1573.99,532.5 1571.23,527.9 1569.21,521.45 1568.84,517.77 1571.51,515.74 1569.21,516.67 1567.55,516.85 1566.2,516.85" fill="#d2b48c" stroke="none"/>
<polygon points="1706.49,276.65 1710.56,280.72 1711.78,286.42 1711.37,294.55 1706.49,296.59 1701.61,298.62 1697.54,301.06 1693.47,303.91 1690.21,307.57 1687.37,307.57 1690.21,305.13 1693.47,301.88 1691.03,300.25 1690.21,297.81 1691.84,294.55 1693.47,292.11 1695.1,290.65 1698.35,289.67 1701.61,287.23 1704.86,283.97 1705.68,280.72 1704.86,277.87" fill="#97b6e1" stroke="none"/>
<polygon points="1587.62,509.3 1593.14,504.24 1595.44,504.7 1597.74,509.3 1594.98,515.74 1591.3,514.36" fill="#b3b3b3" stroke="none"/>
<polygon points="1582.37,484.44 1583.75,484.63 1584.67,487.67 1583.48,487.21" fill="#b3b3b3" stroke="none"/>
<polygon points="1582.09,498.25 1583.75,498.07 1583.94,500.09 1582.28,500.28" fill="#b3b3b3" stroke="none"/>
<polygon points="1574.49,467.2 1576.28,467.04 1576.68,468.83 1574.81,469.07" fill="#b3b3b3" stroke="none"/>
<polyline points="1601.51,275.02 1603.13,277.46 1600.69,281.13 1605.57,285.6 1609.64,291.3 1610.05,297.81 1613.71,301.06 1614.12,307.57 1616.15,314.09 1620.22,320.6 1622.67,328.73 1627.55,335.25 1629.99,338.01" stroke="#97b6e1" stroke-width="1.7"/>
<polyline points="1625.11,275.02 1629.99,280.72 1633.25,287.23 1640.57,293.74 1637.31,299.44 1638.13,307.57 1644.64,314.09 1651.15,318.97 1656.03,321.41 1656.44,324.67" stroke="#97b6e1" stroke-width="1.7"/>
<polyline points="1567.16,294.96 1576.28,297.81 1578.72,304.32 1580.35,317.34 1583.6,323.85 1587.67,328.73 1590.11,333.62 1599.06,336.87" stroke="#97b6e1" stroke-width="1.7"/>
<polyline points="1672.31,275.02 1677.19,278.28 1681.26,279.5 1684.52,277.46" stroke="#97b6e1" stroke-width="1.7"/>
<polyline points="1590.11,334 1596.62,336.44 1602.32,342.14 1608.02,344.58 1612.09,350.28 1613.71,356.79 1612.09,360.04" stroke="#97b6e1" stroke-width="1.7"/>
<polyline points="1608.83,342.14 1615.34,345.39 1621.04,348.65 1625.92,351.5" stroke="#97b6e1" stroke-width="1.7"/>
<polyline points="1625.92,334 1629.99,338.07 1630.8,342.95 1629.18,346.21" stroke="#97b6e1" stroke-width="1.7"/>
<polyline points="1567.16,386.9 1572.21,390.97 1576.28,396.67 1578.72,399.11" stroke="#97b6e1" stroke-width="1.7"/>
<polyline points="1580.75,422.68 1576.28,422.68 1573.84,425.53 1574.65,432.86 1577.09,438.55 1573.84,444.25 1574.65,449.95 1578.72,455.64 1581.97,458.9 1581.97,462.15 1586.04,462.97 1590.11,468.67 1592.55,475.18 1594.18,479.25 1592.55,481.28 1587.67,478.43" stroke="#97b6e1" stroke-width="1.7"/>
<polyline points="1587.62,478.92 1591.3,481.68 1594.52,481.22 1594.06,478" stroke="#97b6e1" stroke-width="1.7"/>
<polyline points="1567.16,297.16 1576.28,297.48 1587.26,297.81 1588.48,299.84 1590.52,299.44 1592.96,301.88 1594.18,306.76 1619,307.74 1642.2,332.15" stroke="#000" stroke-width="1.5"/>
<polyline points="1567.16,341.32 1570.58,346.21 1575.46,351.9 1578.72,357.6 1580.35,364.11 1584.42,369.81 1586.86,377.13 1590.93,380.39 1592.55,381.2" stroke="#000" stroke-width="1.5"/>
<polyline points="1567.16,412.92 1570.58,412.35 1576.28,414.14 1579.53,413.98" stroke="#000" stroke-width="1.5"/>
<polyline points="1567.32,414.14 1567.16,421.46" stroke="#000" stroke-width="1.5"/>
<polyline points="1683.7,275.02 1686.96,277.06 1693.47,277.46 1698.35,276.65 1703.23,277.06 1705.68,280.72 1704.86,283.97 1701.61,287.23 1698.35,289.67 1695.1,290.65 1693.47,292.11 1691.84,294.55 1690.21,297.81 1691.03,300.25 1693.47,301.88 1690.21,305.13 1686.96,307.57 1689.4,310.83 1688.18,313.68 1688.18,313.68 1685.74,311.24 1680.45,309.37 1675.56,309.2 1675.56,309.2 1673.53,310.83 1669.05,314.09 1664.98,317.34 1660.92,321.41 1658.07,326.29 1657.25,332.8 1655.63,333.78 1655.63,333.78 1653.59,332.15 1649.52,331.83 1643.83,332.4 1638.94,334.43 1638.94,335.46 1636.5,337.66 1632.43,342.14 1630.4,347.02 1630.4,347.02 1630.15,349.87 1626.73,352.31 1625.11,354.75 1621.85,356.38 1616.97,360.21 1612.9,364.27 1605.57,368.18 1602.32,372.09 1599.06,374.28 1595.81,376.73 1592.55,381.2 1592.55,381.2 1589.3,386.09 1586.45,390.97 1584.01,396.67 1581.57,403.18 1580.18,409.69 1580.35,410.88 1580.35,416.58 1580.35,421.46 1580.35,421.46 1581.32,427.16 1583.03,434.48 1585.39,441.81 1588.65,449.13 1592.72,456.46 1596.79,463.78 1600.04,469.48 1600.04,469.48 1600.28,472.33 1598.66,474.36 1599.23,481.69 1597.74,478.92 1600.97,485.36 1604.37,493.65 1607.13,501.01 1609.71,508.38 1611.09,514.82 1611.09,514.82 1610.82,522.19 1609.9,531.39 1608.52,540.6 1606.21,547.97 1606.21,547.97 1602.53,553.49 1598.67,556.43 1594.06,557.36 1588.72,555.51 1585.96,551.19 1585.96,551.19 1586.7,545.66 1584.12,540.78 1579.52,536.18 1573.99,532.5 1571.23,527.9 1569.21,521.45 1568.84,517.77 1571.51,515.74 1569.21,516.67 1567.55,516.85" stroke="#000" stroke-width="1.3"/>
<polyline points="1683.7,275.02 1686.96,277.06 1693.47,277.46 1698.35,276.65 1703.23,277.06 1705.68,280.72 1704.86,283.97 1701.61,287.23 1698.35,289.67 1695.1,290.65 1693.47,292.11 1691.84,294.55 1690.21,297.81 1691.03,300.25 1693.47,301.88 1690.21,305.13 1686.96,307.57 1689.4,310.83 1688.18,313.68" stroke="#000" stroke-width="2"/>
<polyline points="1688.18,313.68 1685.74,311.24 1680.45,309.37 1675.56,309.2" stroke="#000" stroke-width="2.8"/>
<polyline points="1675.56,309.2 1673.53,310.83 1669.05,314.09 1664.98,317.34 1660.92,321.41 1658.07,326.29 1657.25,332.8 1655.63,333.78" stroke="#000" stroke-width="2.7"/>
<polyline points="1655.63,333.78 1653.59,332.15 1649.52,331.83 1643.83,332.4 1638.94,334.43" stroke="#000" stroke-width="1.4"/>
<polyline points="1638.94,335.46 1636.5,337.66 1632.43,342.14 1630.4,347.02" stroke="#000" stroke-width="1.5"/>
<polyline points="1630.4,347.02 1630.15,349.87 1626.73,352.31 1625.11,354.75 1621.85,356.38 1616.97,360.21 1612.9,364.27 1605.57,368.18 1602.32,372.09 1599.06,374.28 1595.81,376.73 1592.55,381.2" stroke="#000" stroke-width="2.8"/>
<polyline points="1592.55,381.2 1589.3,386.09 1586.45,390.97 1584.01,396.67 1581.57,403.18 1580.18,409.69" stroke="#000" stroke-width="3"/>
<polyline points="1580.35,410.88 1580.35,416.58 1580.35,421.46" stroke="#000" stroke-width="2.3"/>
<polyline points="1580.35,421.46 1581.32,427.16 1583.03,434.48 1585.39,441.81 1588.65,449.13 1592.72,456.46 1596.79,463.78 1600.04,469.48" stroke="#000" stroke-width="1.7"/>
<polyline points="1600.04,469.48 1600.28,472.33 1598.66,474.36 1599.23,481.69" stroke="#000" stroke-width="3.2"/>
<polyline points="1597.74,478.92 1600.97,485.36 1604.37,493.65 1607.13,501.01 1609.71,508.38 1611.09,514.82" stroke="#000" stroke-width="2.6"/>
<polyline points="1611.09,514.82 1610.82,522.19 1609.9,531.39 1608.52,540.6 1606.21,547.97" stroke="#000" stroke-width="2.1"/>
<polyline points="1606.21,547.97 1602.53,553.49 1598.67,556.43 1594.06,557.36 1588.72,555.51 1585.96,551.19" stroke="#000" stroke-width="3.6"/>
<polyline points="1585.96,551.19 1586.7,545.66 1584.12,540.78 1579.52,536.18 1573.99,532.5 1571.23,527.9 1569.21,521.45 1568.84,517.77 1571.51,515.74 1569.21,516.67 1567.55,516.85" stroke="#000" stroke-width="3"/>
<polyline points="1706.49,275.43 1709.34,278.28 1711.54,282.35 1712.35,287.23 1712.02,292.11 1711.21,295.77 1708.12,296.59 1704.86,297.81 1701.61,299.27 1698.35,301.23 1695.1,303.51 1692.25,306.35 1690.21,309.61 1688.59,313.27" stroke="#000" stroke-width="2.4"/>
<polyline points="1683.7,275.84 1691.84,276.49 1699.98,276 1706.49,276" stroke="#000" stroke-width="3"/>
<polyline points="1699.17,276.65 1699.57,280.72 1698.35,284.79" stroke="#000" stroke-width="2.4"/>
<polyline points="1703.23,277.46 1704.86,280.72 1704.05,283.97" stroke="#000" stroke-width="2"/>
<polyline points="1678.01,288.86 1682.08,290.48 1686.96,289.26 1691.03,288.86 1695.1,290.08" stroke="#000" stroke-width="4.2"/>
<polyline points="1687.37,289.26 1688.99,292.93 1687.37,296.18 1689.81,298.22" stroke="#000" stroke-width="4.2"/>
<polyline points="1685.98,288.21 1689.64,289.51" stroke="#000" stroke-width="6.2"/>
<polyline points="1705.68,282.35 1703.64,286.42 1699.57,290.08 1695.75,291.46" stroke="#000" stroke-width="3.2"/>
<polyline points="1693.47,301.88 1690.21,305.13 1687.37,307.74" stroke="#000" stroke-width="3.4"/>
<polyline points="1678.01,301.06 1682.08,302.69 1686.96,301.47 1691.03,300.41" stroke="#000" stroke-width="4"/>
<polyline points="1686.96,307.57 1680.45,309.61 1675.56,309.2" stroke="#000" stroke-width="2.6"/>
<polyline points="1689.4,310.83 1687.77,313.27" stroke="#000" stroke-width="3"/>
<polyline points="1664.98,317.34 1660.92,321.41 1658.07,326.29 1657.25,332.8" stroke="#000" stroke-width="2.6"/>
<polyline points="1627.96,346.21 1629.18,349.46" stroke="#000" stroke-width="3.6"/>
<polyline points="1612.9,360.86 1616.97,360.04 1621.85,356.38 1625.11,354.35" stroke="#000" stroke-width="3"/>
<polyline points="1593.37,368.99 1593.77,373.06 1596.62,372.25 1598.25,368.18 1601.51,369.81 1600.69,372.25" stroke="#000" stroke-width="3.4"/>
<polyline points="1605.57,366.55 1610.46,365.33" stroke="#000" stroke-width="2.6"/>
<polyline points="1586.45,382.83 1584.01,387.71 1582.79,392.6 1581.32,398.29 1579.69,402.36 1578.31,407.25 1578.88,410.01" stroke="#000" stroke-width="3"/>
<polyline points="1576.28,401.96 1578.72,403.99" stroke="#000" stroke-width="3"/>
<polyline points="1578.56,406 1579.69,409.26" stroke="#000" stroke-width="3.2"/>
<polyline points="1579.13,414.14 1579.53,420.65" stroke="#000" stroke-width="2.6"/>
<polyline points="1581.97,433.67 1582.79,436.93" stroke="#000" stroke-width="3"/>
<polyline points="1593.37,467.04 1595.81,471.11 1597.03,475.99 1597.84,481.69" stroke="#000" stroke-width="4.2"/>
<polyline points="1604.19,502.4 1606.95,503.32" stroke="#000" stroke-width="2.6"/>
<polyline points="1586.7,550.73 1588.54,553.49 1593.14,556.25 1598.67,555.79 1603.27,551.65" stroke="#000" stroke-width="4"/>
<polyline points="1606.03,542.44 1607.87,544.28" stroke="#000" stroke-width="2.4"/>
<polyline points="1569.21,517.59 1570.13,522.19" stroke="#000" stroke-width="3.6"/>
<polyline points="1632.73,514.82 1639.17,520.35 1642.85,518.97 1643.31,512.52 1645.62,516.67 1652.06,515.74 1657.58,515.28 1659.24,518.51" stroke="#000" stroke-width="3.3"/>
<polyline points="1646.08,501.75 1652.06,504.7 1659.42,507.46 1666.79,510.22" stroke="#000" stroke-width="2.1"/>
<polyline points="1666.79,510.22 1672.31,514.82 1677.38,518.51 1678.3,523.11 1675.54,525.87" stroke="#000" stroke-width="3.75"/>
<polyline points="1675.54,525.87 1673.42,529.55 1674.15,535.54 1669.55,533.05" stroke="#000" stroke-width="2.55"/>
<polyline points="1657.58,511.14 1665.87,512.25 1670.47,517.59 1672.31,524.03" stroke="#000" stroke-width="3.3"/>
<polyline points="1650.68,507.92 1651.6,509.3" stroke="#000" stroke-width="2.55"/>
<polyline points="1664.95,525.87 1665.68,527.25" stroke="#000" stroke-width="2.25"/>
<polyline points="1665.87,530.47 1666.14,531.21" stroke="#000" stroke-width="1.8"/>
<polyline points="1656.66,536.92 1661.27,541.52 1661.27,546.12 1657.58,547.51" stroke="#000" stroke-width="2.7"/>
<polyline points="1627.94,538.76 1626.84,542.44" stroke="#000" stroke-width="2.25"/>
<polyline points="1628.58,547.04 1630.43,551.65" stroke="#000" stroke-width="1.2"/>
<polyline points="1631.35,532.32 1632.73,532.87" stroke="#000" stroke-width="0.9"/>
<polyline points="1680.6,545.2 1684.28,543.82 1687.04,546.12 1692.57,549.81 1697.17,554.41 1697.35,557.36" stroke="#000" stroke-width="2.55"/>
<polyline points="1664.95,557.17 1670.47,555.33 1676,553.95" stroke="#000" stroke-width="2.4"/>
<polyline points="1678.3,551.65 1681.06,547.97 1682.44,545.2" stroke="#000" stroke-width="1.35"/>
<polyline points="1652.06,549.81 1650.68,554.41 1652.06,557.91" stroke="#000" stroke-width="2.85"/>
<polyline points="1652.06,549.81 1655.28,554.41 1656.2,557.91" stroke="#000" stroke-width="2.55"/>
<polyline points="1945.8,374.6 1947.7,373.9 1949.8,373" stroke="#000" stroke-width="3.7"/>
</g>
<path d="M1690 275.2H1966.4 V558.1 H1567.2" fill="none" stroke="#000" stroke-width="1.33"/>
<path d="M1567.2 558.1V517" fill="none" stroke="#000" stroke-width="1.33"/>
<path d="M1729.35 393.3L1728.4 392.2" stroke="#000" stroke-width="10.4" stroke-linecap="round" fill="none"/>
<circle cx="1727.55" cy="391.3" r="4.45" fill="#f00" stroke="#000" stroke-width="1.75"/>
<path d="M1589.5 275.2v-8.33M1589.5 558.1v8.33M1656.5 275.2v-8.33M1656.5 558.1v8.33M1722.5 275.2v-8.33M1722.5 558.1v8.33M1789.5 275.2v-8.33M1789.5 558.1v8.33M1855.5 275.2v-8.33M1855.5 558.1v8.33M1922.5 275.2v-8.33M1922.5 558.1v8.33M1567.2 509.5h-8.33M1966.4 509.5h8.33M1567.2 433.5h-8.33M1966.4 433.5h8.33M1567.2 356.5h-8.33M1966.4 356.5h8.33M1567.2 275.5h-8.33M1966.4 275.5h8.33" fill="none" stroke="#000" stroke-width="3.33"/>
<path d="M1567.5 275.2v-3.33M1567.5 558.1v3.33M1611.5 275.2v-3.33M1611.5 558.1v3.33M1633.5 275.2v-3.33M1633.5 558.1v3.33M1678.5 275.2v-3.33M1678.5 558.1v3.33M1700.5 275.2v-3.33M1700.5 558.1v3.33M1744.5 275.2v-3.33M1744.5 558.1v3.33M1767.5 275.2v-3.33M1767.5 558.1v3.33M1811.5 275.2v-3.33M1811.5 558.1v3.33M1833.5 275.2v-3.33M1833.5 558.1v3.33M1878.5 275.2v-3.33M1878.5 558.1v3.33M1900.5 275.2v-3.33M1900.5 558.1v3.33M1944.5 275.2v-3.33M1944.5 558.1v3.33M1966.5 275.2v-3.33M1966.5 558.1v3.33M1567.2 558.5h-3.33M1966.4 558.5h3.33M1567.2 534.5h-3.33M1966.4 534.5h3.33M1567.2 484.5h-3.33M1966.4 484.5h3.33M1567.2 459.5h-3.33M1966.4 459.5h3.33M1567.2 408.5h-3.33M1966.4 408.5h3.33M1567.2 382.5h-3.33M1966.4 382.5h3.33M1567.2 329.5h-3.33M1966.4 329.5h3.33M1567.2 302.5h-3.33M1966.4 302.5h3.33" fill="none" stroke="#000" stroke-width="1.67"/>
<g font-size="22.1" fill="#000">
<text x="1551.4" y="284.5" text-anchor="end">36°N</text>
<text x="1551.4" y="365.5" text-anchor="end">33°N</text>
<text x="1551.4" y="442.5" text-anchor="end">30°N</text>
<text x="1551.4" y="518.5" text-anchor="end">27°N</text>
<text transform="translate(1587.3,602.6) rotate(-45)" text-anchor="middle" y="8.2">81°W</text>
<text transform="translate(1654.3,602.6) rotate(-45)" text-anchor="middle" y="8.2">78°W</text>
<text transform="translate(1720.3,602.6) rotate(-45)" text-anchor="middle" y="8.2">75°W</text>
<text transform="translate(1787.3,602.6) rotate(-45)" text-anchor="middle" y="8.2">72°W</text>
<text transform="translate(1853.3,602.6) rotate(-45)" text-anchor="middle" y="8.2">69°W</text>
<text transform="translate(1920.3,602.6) rotate(-45)" text-anchor="middle" y="8.2">66°W</text>
</g>
</g>
<g>
<rect x="1683.9" y="652.9" width="165.2" height="143.6" rx="4.5" ry="4.5" fill="#fff" stroke="#ccc" stroke-width="1.73"/>
<g font-size="22.3" fill="#000">
<path d="M1692.2 672.4H1739.8" stroke="#00f" stroke-width="3" fill="none"/>
<circle cx="1716.3" cy="672.4" r="6.15" fill="#00f"/>
<text x="1756.6" y="681.3">ng738</text>
<path d="M1692.2 706.5H1739.8" stroke="#f00" stroke-width="3" fill="none"/>
<circle cx="1716.3" cy="706.5" r="6.15" fill="#f00"/>
<text x="1756.6" y="715.4">RTOFS</text>
<path d="M1692.2 740.4H1739.8" stroke="#008000" stroke-width="3" fill="none"/>
<circle cx="1716.3" cy="740.4" r="6.15" fill="#008000"/>
<text x="1756.6" y="749.3">ESPC</text>
<path d="M1692.2 775.4H1739.8" stroke="#f0f" stroke-width="3" fill="none"/>
<circle cx="1716.3" cy="775.4" r="6.15" fill="#f0f"/>
<text x="1756.6" y="784.3">CMEMS</text>
</g></g>
</svg>
</body></html>
